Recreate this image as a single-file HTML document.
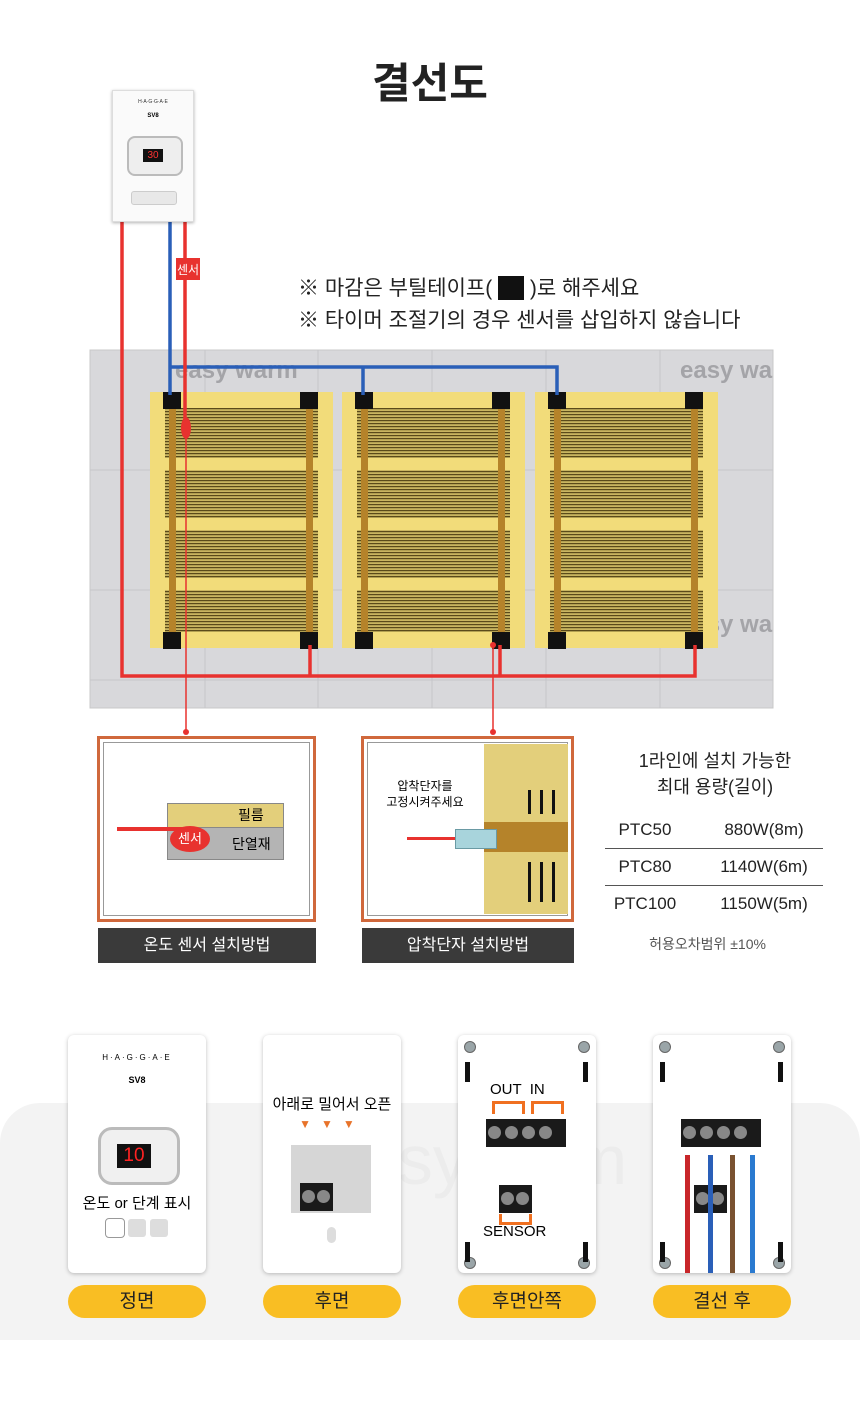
<!DOCTYPE html>
<html><head><meta charset="utf-8">
<style>
body{margin:0;width:860px;height:1403px;background:#fff;position:relative;overflow:hidden;font-family:"Liberation Sans","Noto Sans CJK KR",sans-serif;}
.a{position:absolute;}
.t{position:absolute;white-space:nowrap;}
.card{position:absolute;top:1035px;width:138px;height:238px;background:#fff;border-radius:6px;box-shadow:0 1px 4px rgba(0,0,0,.25);}
.pill{position:absolute;top:1285px;width:138px;height:33px;background:#f9be23;border-radius:17px;text-align:center;line-height:33px;font-size:19px;color:#222;}
.screw{position:absolute;width:10px;height:10px;border-radius:50%;background:#9aa5a8;border:1px solid #666;}
.slot{position:absolute;width:5px;height:20px;background:#111;}
.term{position:absolute;height:28px;background:#1a1a1a;}
.term i{display:inline-block;width:13px;height:13px;border-radius:50%;background:#888;margin:7px 2px;}
.c1{position:absolute;left:605px;width:80px;text-align:center;font-size:17px;color:#222;}
.c2{position:absolute;left:705px;width:118px;text-align:center;font-size:17px;color:#222;}
</style></head><body>
<div class="t" style="left:0;width:860px;top:50px;text-align:center;font-size:42px;font-weight:bold;color:#222;">결선도</div>

<svg class="a" style="left:0;top:0" width="860" height="1000">
<defs>
<pattern id="st" width="4" height="3" patternUnits="userSpaceOnUse"><rect width="4" height="3" fill="#c9b560"/><rect width="4" height="1.2" fill="#5a4a1a"/></pattern>
</defs>
<rect x="90" y="350" width="683" height="358" fill="#d8d8db" stroke="#c8c8c8"/>
<g stroke="#c6c6ca" stroke-width="1">
<line x1="205" y1="350" x2="205" y2="708"/><line x1="318" y1="350" x2="318" y2="708"/><line x1="432" y1="350" x2="432" y2="708"/><line x1="546" y1="350" x2="546" y2="708"/><line x1="660" y1="350" x2="660" y2="708"/>
<line x1="90" y1="470" x2="773" y2="470"/><line x1="90" y1="590" x2="773" y2="590"/><line x1="90" y1="680" x2="773" y2="680"/>
</g>
<text x="175" y="378" font-size="24" font-weight="bold" fill="#a4a4a8" font-family="Liberation Sans">easy warm</text>
<text x="680" y="378" font-size="24" font-weight="bold" fill="#a4a4a8" font-family="Liberation Sans">easy wa</text>
<text x="175" y="632" font-size="24" font-weight="bold" fill="#a4a4a8" font-family="Liberation Sans">easy warm</text>
<text x="680" y="632" font-size="24" font-weight="bold" fill="#a4a4a8" font-family="Liberation Sans">easy wa</text>
<g id="p">
<rect x="150" y="392" width="183" height="256" fill="#f2dc7a"/>
<rect x="165" y="408" width="153" height="50" fill="url(#st)"/>
<rect x="165" y="470" width="153" height="48" fill="url(#st)"/>
<rect x="165" y="530" width="153" height="48" fill="url(#st)"/>
<rect x="165" y="590" width="153" height="42" fill="url(#st)"/>
<rect x="169" y="400" width="7" height="240" fill="#b5832a"/>
<rect x="306" y="400" width="7" height="240" fill="#b5832a"/>
<rect x="163" y="392" width="18" height="17" fill="#111"/>
<rect x="300" y="392" width="18" height="17" fill="#111"/>
<rect x="163" y="632" width="18" height="17" fill="#111"/>
<rect x="300" y="632" width="18" height="17" fill="#111"/>
</g>
<use href="#p" x="192"/>
<use href="#p" x="385" />
<g fill="none" stroke-width="3.5">
<path d="M122 220 V676 H695 V645" stroke="#e8322f"/>
<path d="M310 645 V676 M500 645 V676" stroke="#e8322f"/>
<path d="M170 220 V367 H557 V395 M170 367 V395 M363 367 V395" stroke="#2a5fb8"/>
<path d="M185 220 V420" stroke="#e8322f"/>
</g>
<path d="M186 430 V732 M493 645 V732" stroke="#e8322f" stroke-width="1.5"/>
<ellipse cx="186" cy="428" rx="5" ry="11" fill="#e8322f"/>
<circle cx="186" cy="732" r="3" fill="#e8322f"/><circle cx="493" cy="732" r="3" fill="#e8322f"/>
<circle cx="493" cy="645" r="3" fill="#e8322f"/>
<rect x="176" y="258" width="24" height="22" fill="#e8322f"/>
<text x="188" y="274" font-size="12" fill="#fff" text-anchor="middle" font-family="Noto Sans CJK KR">센서</text>
</svg>

<div class="a" style="left:112px;top:90px;width:80px;height:130px;background:#fafafa;border:1px solid #ddd;box-shadow:0 1px 3px rgba(0,0,0,.3);">
<div class="t" style="left:0;width:80px;top:8px;text-align:center;font-size:5px;color:#333;">H·A·G·G·A·E</div>
<div class="t" style="left:0;width:80px;top:22px;text-align:center;font-size:6px;font-weight:bold;">SV8</div>
<div class="a" style="left:14px;top:45px;width:52px;height:36px;border:2px solid #bbb;border-radius:8px;background:#eee;"><div class="a" style="left:14px;top:11px;width:20px;height:13px;background:#111;color:#f33;font-size:10px;text-align:center;line-height:13px;">30</div></div>
<div class="a" style="left:18px;top:100px;width:44px;height:12px;background:#e8e8e8;border:1px solid #ccc;border-radius:3px;"></div>
</div>

<div class="t" style="left:298px;top:273px;font-size:21px;color:#222;line-height:32px;">※ 마감은 부틸테이프( <span style="display:inline-block;width:26px;height:24px;background:#111;vertical-align:-5px;"></span> )로 해주세요<br>※ 타이머 조절기의 경우 센서를 삽입하지 않습니다</div>

<div class="a" style="left:97px;top:736px;width:213px;height:180px;border:3px solid #d0683c;background:#fff;"><div class="a" style="left:3px;top:3px;right:3px;bottom:3px;border:1px solid #999;"></div></div>
<div class="a" style="left:167px;top:803px;width:115px;height:24px;background:#e3cf7b;border:1px solid #888;"></div>
<div class="a" style="left:167px;top:827px;width:115px;height:31px;background:#b4b4b4;border:1px solid #888;"></div>
<div class="t" style="left:238px;top:805px;font-size:14px;">필름</div>
<div class="t" style="left:232px;top:834px;font-size:14px;">단열재</div>
<div class="a" style="left:117px;top:827px;width:65px;height:4px;background:#e8322f;"></div>
<div class="a" style="left:170px;top:826px;width:40px;height:26px;border-radius:50%;background:#e8322f;color:#fff;font-size:13px;text-align:center;line-height:26px;">센서</div>
<div class="a" style="left:98px;top:928px;width:218px;height:35px;background:#3a3a3a;color:#fff;font-size:16px;text-align:center;line-height:35px;">온도 센서 설치방법</div>

<div class="a" style="left:361px;top:736px;width:207px;height:180px;border:3px solid #d0683c;background:#fff;"><div class="a" style="left:3px;top:3px;right:3px;bottom:3px;border:1px solid #999;"></div></div>
<div class="a" style="left:484px;top:744px;width:84px;height:170px;background:#e3cf7b;"></div>
<div class="a" style="left:484px;top:822px;width:84px;height:30px;background:#b5832a;"></div>
<div class="a" style="left:528px;top:790px;width:3px;height:24px;background:#111;box-shadow:12px 0 #111,24px 0 #111;"></div>
<div class="a" style="left:528px;top:862px;width:3px;height:40px;background:#111;box-shadow:12px 0 #111,24px 0 #111;"></div>
<div class="a" style="left:407px;top:837px;width:50px;height:3px;background:#e8322f;"></div>
<div class="a" style="left:455px;top:829px;width:40px;height:18px;background:#a8d4dc;border:1px solid #6a9aa4;"></div>
<div class="t" style="left:370px;top:778px;width:110px;text-align:center;font-size:12px;line-height:16px;">압착단자를<br>고정시켜주세요</div>
<div class="a" style="left:362px;top:928px;width:212px;height:35px;background:#3a3a3a;color:#fff;font-size:16px;text-align:center;line-height:35px;">압착단자 설치방법</div>

<div class="t" style="left:605px;width:220px;top:748px;text-align:center;font-size:18px;line-height:26px;color:#222;">1라인에 설치 가능한<br>최대 용량(길이)</div>
<div class="a" style="left:605px;top:848px;width:218px;height:1px;background:#555;"></div>
<div class="a" style="left:605px;top:885px;width:218px;height:1px;background:#555;"></div>
<div class="c1" style="top:820px">PTC50</div><div class="c2" style="top:820px">880W(8m)</div>
<div class="c1" style="top:857px">PTC80</div><div class="c2" style="top:857px">1140W(6m)</div>
<div class="c1" style="top:894px">PTC100</div><div class="c2" style="top:894px">1150W(5m)</div>
<div class="t" style="left:605px;width:205px;top:934px;text-align:center;font-size:14px;color:#555;">허용오차범위 ±10%</div>

<div class="a" style="left:0;top:1103px;width:860px;height:237px;background:#f3f3f3;border-radius:40px 40px 0 0;"></div>
<div class="t" style="left:320px;top:1120px;font-size:70px;color:#ececec;">easyuarm</div>

<div class="card" style="left:68px;">
<div class="t" style="left:0;width:138px;top:18px;text-align:center;font-size:8px;letter-spacing:2px;">H·A·G·G·A·E</div>
<div class="t" style="left:0;width:138px;top:40px;text-align:center;font-size:9px;font-weight:bold;">SV8</div>
<div class="a" style="left:30px;top:92px;width:76px;height:52px;border:3px solid #bbb;border-radius:14px;background:#f0f0f0;"><div class="a" style="left:16px;top:14px;width:34px;height:24px;background:#111;color:#f22;font-size:19px;text-align:center;line-height:24px;">10</div></div>
<div class="t" style="left:0;width:138px;top:157px;text-align:center;font-size:15px;">온도 or 단계 표시</div>
<div class="a" style="left:37px;top:183px;width:18px;height:18px;border:1px solid #999;border-radius:4px;box-shadow:22px 0 0 -1px #ddd,44px 0 0 -1px #ddd;"></div>
</div>
<div class="card" style="left:263px;">
<div class="t" style="left:0;width:138px;top:58px;text-align:center;font-size:15px;">아래로 밀어서 오픈</div>
<div class="t" style="left:0;width:138px;top:82px;text-align:center;font-size:12px;color:#e8732a;letter-spacing:10px;">▼▼▼</div>
<div class="a" style="left:28px;top:110px;width:80px;height:68px;background:#d6d6d6;"></div>
<div class="term" style="left:37px;top:148px;width:33px;"><i></i><i style="margin:7px 0"></i></div>
<div class="a" style="left:64px;top:192px;width:9px;height:16px;border-radius:5px;background:#ddd;"></div>
</div>
<div class="card" style="left:458px;">
<div class="screw" style="left:6px;top:6px"></div><div class="screw" style="left:120px;top:6px"></div><div class="screw" style="left:6px;top:222px"></div><div class="screw" style="left:120px;top:222px"></div>
<div class="slot" style="left:7px;top:27px"></div><div class="slot" style="left:125px;top:27px"></div><div class="slot" style="left:7px;top:207px"></div><div class="slot" style="left:125px;top:207px"></div>
<div class="t" style="left:32px;top:46px;font-size:15px;">OUT &nbsp;IN</div>
<div class="a" style="left:34px;top:66px;width:27px;height:10px;border:3px solid #f07020;border-bottom:none;"></div>
<div class="a" style="left:73px;top:66px;width:27px;height:10px;border:3px solid #f07020;border-bottom:none;"></div>
<div class="term" style="left:28px;top:84px;width:80px;"><i></i><i></i><i></i><i></i></div>
<div class="term" style="left:41px;top:150px;width:33px;"><i></i><i style="margin:7px 0"></i></div>
<div class="a" style="left:41px;top:179px;width:27px;height:8px;border:3px solid #f07020;border-top:none;"></div>
<div class="t" style="left:25px;top:188px;font-size:15px;">SENSOR</div>
</div>
<div class="card" style="left:653px;">
<div class="screw" style="left:6px;top:6px"></div><div class="screw" style="left:120px;top:6px"></div><div class="screw" style="left:6px;top:222px"></div><div class="screw" style="left:120px;top:222px"></div>
<div class="slot" style="left:7px;top:27px"></div><div class="slot" style="left:125px;top:27px"></div><div class="slot" style="left:7px;top:207px"></div><div class="slot" style="left:125px;top:207px"></div>
<div class="term" style="left:28px;top:84px;width:80px;"><i></i><i></i><i></i><i></i></div>
<div class="term" style="left:41px;top:150px;width:33px;"><i></i><i style="margin:7px 0"></i></div>
<div class="a" style="left:32px;top:120px;width:5px;height:118px;background:#c8262a;"></div>
<div class="a" style="left:55px;top:120px;width:5px;height:118px;background:#2a5fb8;"></div>
<div class="a" style="left:77px;top:120px;width:5px;height:118px;background:#7a5230;"></div>
<div class="a" style="left:97px;top:120px;width:5px;height:118px;background:#2a7ad0;"></div>
</div>

<div class="pill" style="left:68px;">정면</div>
<div class="pill" style="left:263px;">후면</div>
<div class="pill" style="left:458px;">후면안쪽</div>
<div class="pill" style="left:653px;">결선 후</div>
</body></html>
